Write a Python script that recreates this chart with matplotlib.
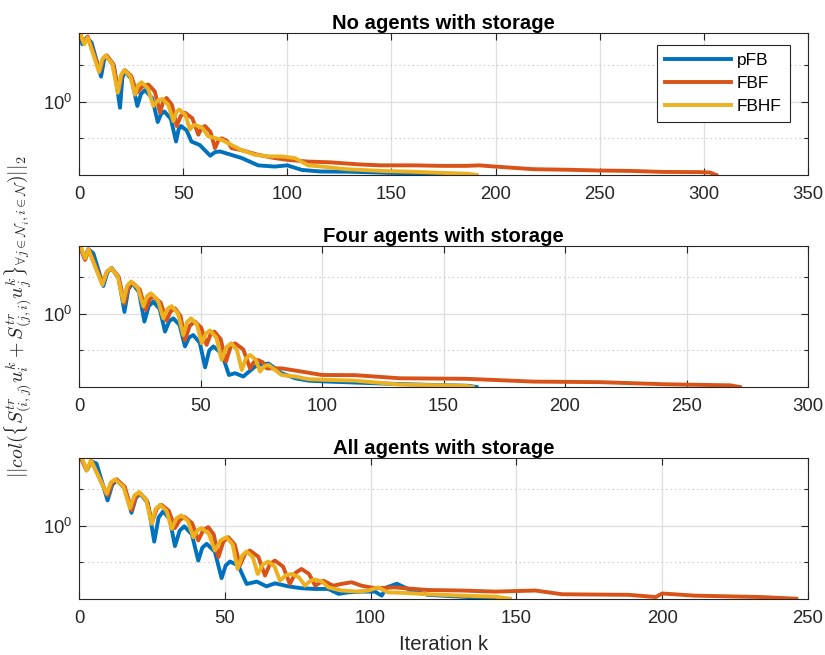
import matplotlib
matplotlib.use("Agg")
import matplotlib.pyplot as plt
from matplotlib.ticker import NullFormatter

plt.rcParams["font.family"] = ["Liberation Sans", "DejaVu Sans"]

BLUE = "#0072BD"
ORANGE = "#D95319"
YELLOW = "#EDB120"
SERIES = ["pFB", "FBF", "FBHF"]
TITLES = ["No agents with storage", "Four agents with storage", "All agents with storage"]
XMAX = [350, 300, 250]

# --- No agents with storage ---
k_none_pfb = [0, 1.6, 3.7, 6, 10.6, 12.0, 13.3, 16.8, 19.7, 20.8, 22, 25.3, 28, 29.8, 31.7, 35.1,
              37.8, 39.4, 41, 44.1, 46.6, 47.8, 49, 51.7, 54, 58, 63, 65.3, 67.7, 78, 86, 94, 100,
              107, 116, 130, 150, 165, 176]
v_none_pfb = [3.63, 2.95, 3.35, 3.05, 1.60, 2.18, 2.37, 1.95, 0.89, 1.56, 1.78, 1.52, 0.92, 1.16,
              1.24, 1.07, 0.68, 0.79, 0.83, 0.72, 0.47, 0.59, 0.63, 0.58, 0.47, 0.44, 0.36, 0.385,
              0.39, 0.345, 0.30, 0.293, 0.30, 0.275, 0.267, 0.266, 0.26, 0.257, 0.25]
k_none_fbf = [0, 2.1, 4.2, 10, 11.6, 13.3, 16.4, 19, 20.5, 22, 25.1, 27.7, 30.5, 33.3, 36.4, 38.9,
              40.4, 42, 44.6, 46.9, 48.9, 50.9, 54.4, 57.3, 58.9, 60.5, 63.1, 65.3, 66.9, 68.5, 71.1,
              73.3, 78, 86, 94, 100, 110, 120, 135, 145, 160, 175, 186, 192, 200, 218, 235, 250, 265,
              280, 298, 303, 306]
v_none_fbf = [3.68, 3.05, 3.41, 1.78, 2.24, 2.39, 2.04, 1.22, 1.66, 1.81, 1.62, 1.18, 1.33, 1.38,
              1.21, 0.81, 1.0, 1.07, 0.94, 0.63, 0.765, 0.81, 0.73, 0.535, 0.61, 0.63, 0.565, 0.415,
              0.48, 0.50, 0.475, 0.415, 0.40, 0.366, 0.344, 0.333, 0.322, 0.318, 0.305, 0.30, 0.30,
              0.297, 0.297, 0.30, 0.293, 0.279, 0.276, 0.272, 0.27, 0.265, 0.264, 0.262, 0.25]
k_none_fbhf = [0.5, 2.5, 4.2, 9.6, 11.2, 12.8, 16.0, 18.6, 20.2, 21.8, 24.6, 26.9, 28.4, 30, 33.1,
               35.7, 37.8, 40, 42.9, 45.3, 46.7, 48.2, 51.0, 53.3, 54.5, 55.7, 59.2, 62, 68.5, 73.3,
               78, 84.5, 91, 97.3, 103.7, 110, 116.5, 128.5, 145, 160, 175, 187, 191]
v_none_fbhf = [3.7, 2.95, 3.35, 1.75, 2.23, 2.39, 2.03, 1.18, 1.65, 1.81, 1.61, 1.14, 1.37, 1.44,
               1.28, 0.92, 1.02, 1.05, 0.94, 0.69, 0.82, 0.86, 0.78, 0.59, 0.63, 0.645, 0.61, 0.52,
               0.486, 0.44, 0.40, 0.366, 0.355, 0.355, 0.344, 0.30, 0.293, 0.279, 0.27, 0.266, 0.26,
               0.256, 0.25]

# --- Four agents with storage ---
k_four_pfb = [0.4, 2.2, 3.8, 5.9, 10, 11.7, 13.4, 16.3, 18.7, 20.3, 22, 24.7, 26.9, 28.7, 30.6,
              33.2, 35.4, 37.1, 38.8, 41.4, 43.6, 45.3, 47, 49.7, 51.9, 53.6, 55.3, 58.8, 61.7, 64.2,
              67.6, 72.4, 75, 78, 83.4, 89, 94.4, 102.6, 113.6, 125, 145, 160, 163.6]
v_four_pfb = [3.63, 2.88, 3.41, 3.16, 1.70, 2.21, 2.38, 1.98, 1.04, 1.60, 1.79, 1.51, 0.865, 1.16,
              1.26, 1.10, 0.715, 0.87, 0.92, 0.81, 0.54, 0.64, 0.67, 0.58, 0.363, 0.50, 0.54, 0.47,
              0.314, 0.325, 0.305, 0.368, 0.385, 0.39, 0.325, 0.295, 0.282, 0.277, 0.272, 0.267,
              0.26, 0.256, 0.25]
k_four_fbf = [0.4, 2.5, 4.1, 9.7, 11.5, 13.4, 16.3, 18.7, 20.3, 22, 25.0, 27.4, 29.0, 30.6, 33.6, 36,
              37.7, 39.5, 41.8, 43.6, 45.6, 47.7, 50.3, 52.5, 54.1, 55.7, 58.3, 60.5, 62.3, 64.2,
              67.6, 70.4, 71.9, 73.5, 75.6, 77.3, 83.4, 91.6, 100, 113.6, 132, 159.5, 187, 214.6,
              242, 268, 272]
v_four_fbf = [3.63, 2.79, 3.37, 1.79, 2.23, 2.38, 2.03, 1.22, 1.66, 1.81, 1.59, 1.08, 1.31, 1.39,
              1.24, 0.88, 1.05, 1.11, 0.96, 0.61, 0.80, 0.865, 0.77, 0.556, 0.675, 0.715, 0.62,
              0.405, 0.53, 0.573, 0.51, 0.356, 0.40, 0.418, 0.40, 0.356, 0.356, 0.335, 0.314, 0.313,
              0.295, 0.292, 0.277, 0.274, 0.263, 0.258, 0.25]
k_four_fbhf = [0.4, 2.5, 3.8, 9.6, 11.4, 13.2, 15.9, 18.2, 19.8, 21.4, 24.2, 26.5, 28.0, 29.6, 32.4,
               34.7, 36.4, 38.1, 40.7, 42.9, 44.5, 46.1, 48.5, 50.5, 52.2, 53.9, 56.5, 58.7, 60.6,
               62.6, 65.0, 67, 68.7, 70.4, 72.7, 74.5, 76.2, 78, 83.4, 89, 94.4, 102.6, 113.6, 132,
               150, 159.5, 162]
v_four_fbhf = [3.7, 2.88, 3.41, 1.73, 2.22, 2.38, 2.04, 1.26, 1.70, 1.85, 1.64, 1.15, 1.40, 1.48,
               1.31, 0.92, 1.10, 1.16, 1.01, 0.67, 0.86, 0.92, 0.82, 0.573, 0.69, 0.73, 0.64, 0.418,
               0.53, 0.573, 0.505, 0.345, 0.43, 0.459, 0.42, 0.335, 0.37, 0.38, 0.314, 0.305, 0.29,
               0.286, 0.282, 0.262, 0.258, 0.255, 0.25]

# --- All agents with storage ---
k_all_pfb = [0.7, 2.6, 4.3, 6, 9.8, 11.4, 12.9, 15.7, 18, 19.5, 20.9, 23.6, 25.8, 27.3, 28.9, 31.1,
             32.9, 34.5, 36.1, 38.7, 40.9, 42.3, 43.8, 46.6, 48.9, 50.3, 51.8, 54.6, 57.5, 61, 64.3,
             67.2, 71.8, 76.3, 80.9, 85.5, 89, 92.3, 96.9, 101.5, 103.8, 105.5, 109, 114, 119.6,
             131, 143]
v_all_pfb = [3.63, 2.87, 3.41, 3.26, 1.62, 2.18, 2.37, 2.04, 1.28, 1.70, 1.84, 1.55, 0.74, 1.17,
             1.32, 1.13, 0.68, 0.91, 0.99, 0.85, 0.516, 0.66, 0.71, 0.61, 0.369, 0.47, 0.507, 0.47,
             0.331, 0.346, 0.316, 0.335, 0.316, 0.305, 0.301, 0.301, 0.274, 0.282, 0.286, 0.286,
             0.265, 0.31, 0.332, 0.292, 0.269, 0.26, 0.25]
k_all_fbf = [0.7, 2.6, 4.3, 9.8, 11.4, 12.9, 15.7, 18, 19.5, 20.9, 23.2, 25.1, 26.7, 28.3, 30.8,
             32.9, 34.6, 36.3, 38.8, 40.9, 42.6, 44.3, 46.2, 47.8, 49.5, 51.2, 53.4, 55.2, 56.9,
             58.6, 61.5, 63.8, 65.5, 67.2, 70.0, 72.3, 74.3, 76.3, 78.9, 81, 83.8, 87.2, 90, 93.5,
             96.9, 101.5, 108.3, 111.8, 119.6, 131, 142.7, 156.5, 165.7, 188.6, 197.8, 200, 211,
             234, 246]
v_all_fbf = [3.63, 2.87, 3.41, 1.78, 2.26, 2.42, 2.10, 1.34, 1.74, 1.87, 1.63, 1.07, 1.39, 1.49,
             1.33, 0.957, 1.12, 1.18, 1.05, 0.757, 0.92, 0.975, 0.85, 0.55, 0.74, 0.805, 0.70, 0.47,
             0.585, 0.625, 0.555, 0.388, 0.485, 0.516, 0.46, 0.331, 0.41, 0.44, 0.40, 0.32, 0.352,
             0.32, 0.331, 0.342, 0.32, 0.305, 0.31, 0.305, 0.295, 0.292, 0.286, 0.292, 0.272,
             0.269, 0.258, 0.276, 0.265, 0.258, 0.25]
k_all_fbhf = [0.9, 2.6, 4.1, 9.5, 10.9, 12.3, 15.2, 17.5, 19.0, 20.6, 23.0, 24.9, 26.3, 27.8, 30.0,
              31.8, 33.4, 35, 37.3, 39.2, 40.6, 42, 44.5, 46.6, 48.6, 50.6, 52.7, 54.4, 56.0, 57.5,
              59.6, 61.3, 63.1, 64.9, 67.1, 68.9, 70.9, 72.9, 75.4, 77.5, 79.2, 80.9, 83.4, 85.5, 90,
              95.8, 99.2, 102.6, 106, 111.8, 119.6, 131, 142.7, 147.8]
v_all_fbhf = [3.7, 2.87, 3.48, 1.84, 2.28, 2.42, 2.11, 1.40, 1.78, 1.90, 1.64, 1.04, 1.38, 1.49,
              1.33, 0.944, 1.15, 1.22, 1.10, 0.805, 0.92, 0.957, 0.86, 0.625, 0.76, 0.805, 0.70,
              0.44, 0.57, 0.614, 0.55, 0.40, 0.48, 0.507, 0.46, 0.352, 0.39, 0.40, 0.376, 0.32,
              0.35, 0.36, 0.345, 0.31, 0.292, 0.286, 0.292, 0.31, 0.282, 0.279, 0.272, 0.265, 0.26,
              0.25]

PANELS = [
    [(k_none_pfb, v_none_pfb), (k_none_fbf, v_none_fbf), (k_none_fbhf, v_none_fbhf)],
    [(k_four_pfb, v_four_pfb), (k_four_fbf, v_four_fbf), (k_four_fbhf, v_four_fbhf)],
    [(k_all_pfb, v_all_pfb), (k_all_fbf, v_all_fbf), (k_all_fbhf, v_all_fbhf)],
]

W, H = 825, 655
fig = plt.figure(figsize=(W / 100, H / 100), dpi=100)
rects = [(33, 175), (245.7, 387), (457.7, 598.7)]  # top / bottom pixel rows
axes = []
for top, bot in rects:
    axes.append(fig.add_axes([79 / W, 1 - bot / H, 729 / W, (bot - top) / H]))

for i, ax in enumerate(axes):
    for (k, v), name, col in zip(PANELS[i], SERIES, [BLUE, ORANGE, YELLOW]):
        ax.plot(k, v, color=col, lw=2.8, label=name, solid_joinstyle="round")
    ax.set_yscale("log")
    ax.set_xlim(0, XMAX[i])
    ax.set_ylim(0.25, 3.65)
    ax.set_xticks(range(0, XMAX[i] + 1, 50))
    ax.set_yticks([1], [r"$\mathdefault{10^{0}}$"])
    ax.set_yticks([0.5, 2], minor=True)
    ax.yaxis.set_minor_formatter(NullFormatter())
    ax.grid(True, which="major", color="#dedede", lw=0.9)
    ax.grid(True, which="minor", axis="y", color="#bdbdbd", lw=0.8, ls=(0, (1, 3)))
    ax.set_axisbelow(True)
    ax.tick_params(which="both", direction="in", top=True, right=True, length=5,
                   width=0.8, color="#262626", labelcolor="#262626", labelsize=13.3)
    ax.tick_params(axis="x", pad=8)
    ax.tick_params(axis="y", pad=5)
    ax.tick_params(which="minor", length=3)
    for sp in ax.spines.values():
        sp.set_color("#262626")
        sp.set_linewidth(0.8)
    ax.set_title(TITLES[i], fontsize=14.6, fontweight="bold", pad=3)

leg = axes[0].legend(loc="upper right", bbox_to_anchor=(0.975, 0.915), borderaxespad=0,
                     fancybox=False, framealpha=1, edgecolor="#262626", fontsize=12.4,
                     handlelength=3.8, handletextpad=0.35, labelspacing=0.45, borderpad=0.47)
leg.get_frame().set_linewidth(0.8)

axes[1].set_ylabel(r"$||col(\{S^{tr}_{(i,j)}u^k_i + S^{tr}_{(j,i)}u^k_j\}_{\forall j \in \mathcal{N}_i, i\in\mathcal{N}})||_2$",
                   fontsize=14.3, color="#262626", math_fontfamily="cm", labelpad=6)
axes[2].set_xlabel("Iteration k", fontsize=14.6, color="#262626", labelpad=6)

fig.savefig("out.png", dpi=100)
